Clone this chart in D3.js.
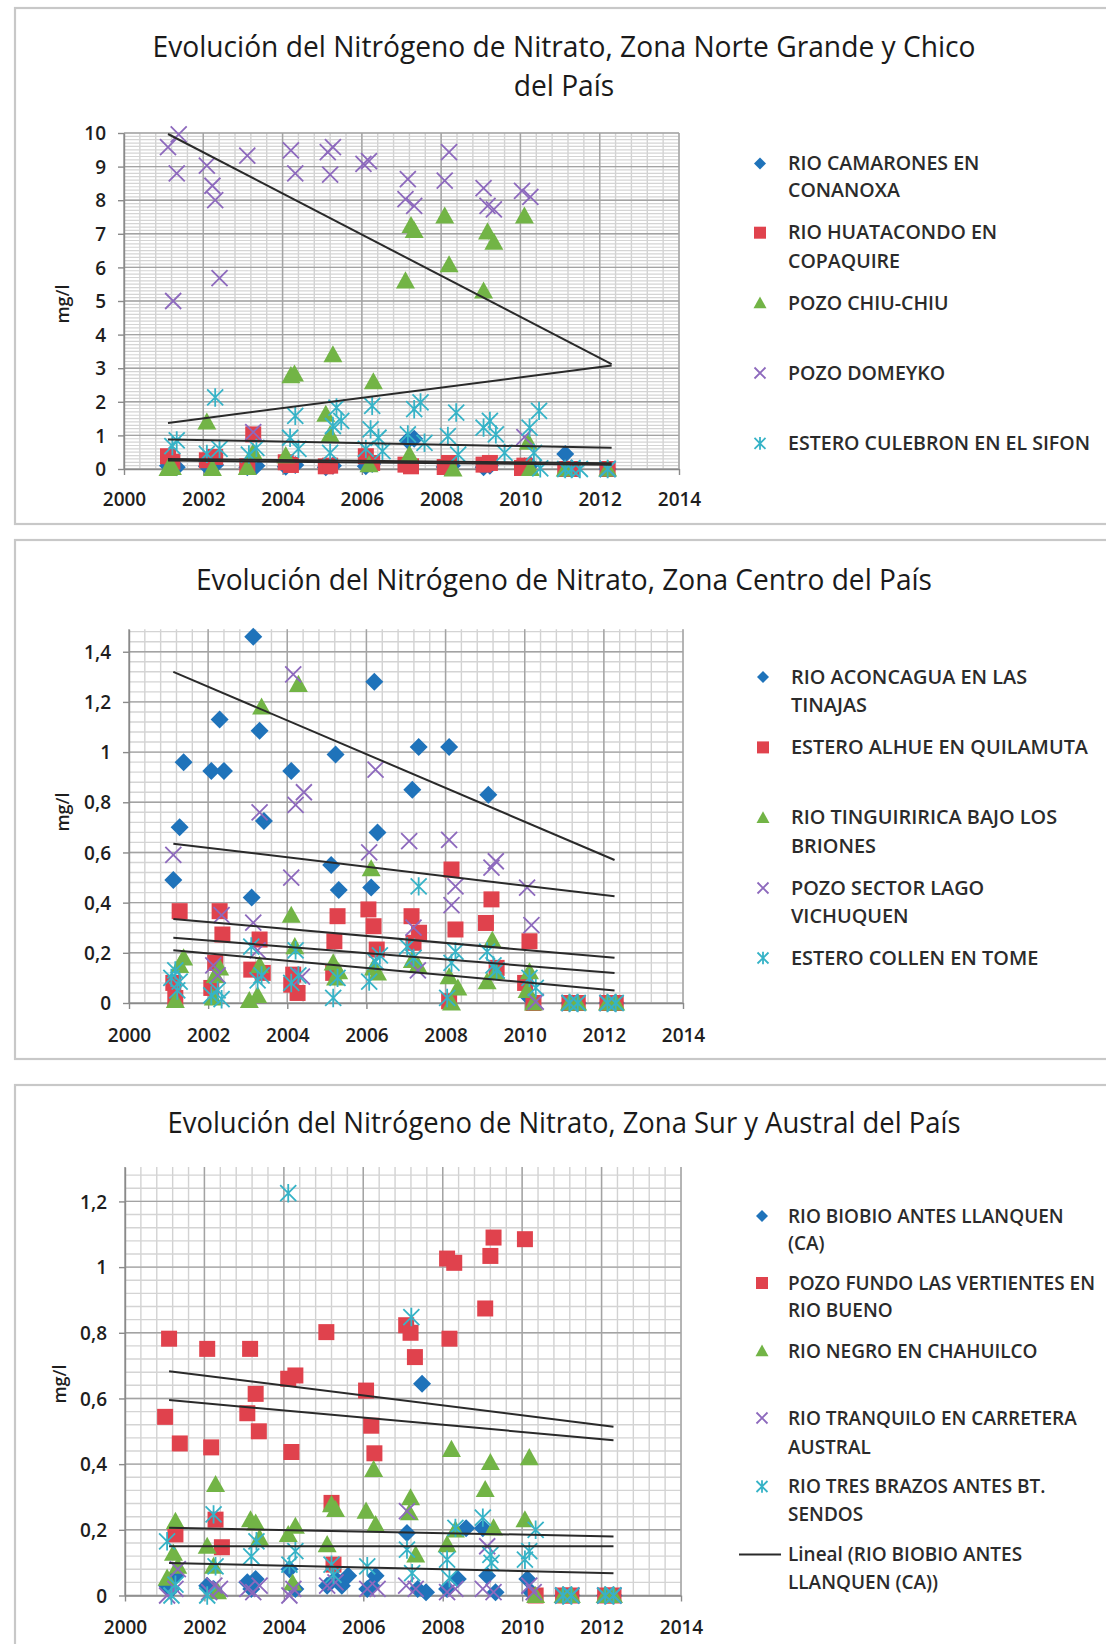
<!DOCTYPE html>
<html><head><meta charset="utf-8">
<script src="https://cdn.jsdelivr.net/npm/d3@7/dist/d3.min.js"></script>
<style>body{margin:0;background:#fff}svg{display:block}</style>
</head><body><svg id="c" width="1106" height="1644"></svg>
<script>
// ---------------- DATA ----------------
const xTicks = [2000, 2002, 2004, 2006, 2008, 2010, 2012, 2014];

// Panel 1 : Norte Grande y Chico
const p1Title = ["Evolución del Nitrógeno de Nitrato, Zona Norte Grande y Chico", "del País"];
const p1YTicks = [0, 1, 2, 3, 4, 5, 6, 7, 8, 9, 10];
const p1Names = [["RIO CAMARONES EN", "CONANOXA"], ["RIO HUATACONDO EN", "COPAQUIRE"], ["POZO CHIU-CHIU"], ["POZO DOMEYKO"], ["ESTERO CULEBRON EN EL SIFON"]];
const p1Camarones = [[2001.11,0.1],[2001.33,0.05],[2002.09,0.08],[2002.3,0.12],[2003.11,0.05],[2003.34,0.1],[2004.08,0.07],[2004.32,0.12],[2005.09,0.05],[2005.27,0.1],[2006.1,0.08],[2006.26,0.15],[2007.16,0.85],[2007.32,0.9],[2008.09,0.06],[2008.27,0.1],[2009.07,0.05],[2009.23,0.1],[2010.1,0.08],[2010.25,0.12],[2011.13,0.45],[2011.29,0.02],[2012.2,0]];
const p1Huatacondo = [[2001.11,0.38],[2001.22,0.22],[2002.09,0.26],[2002.3,0.36],[2003.11,0.08],[2003.26,1.03],[2004.08,0.2],[2004.21,0.12],[2005.09,0.08],[2005.2,0.1],[2006.1,0.38],[2006.26,0.18],[2007.1,0.13],[2007.24,0.08],[2008.09,0.06],[2008.2,0.18],[2009.07,0.13],[2009.23,0.18],[2010.04,0.03],[2010.1,0.1],[2011.13,0],[2011.29,0],[2012.2,0]];
const p1ChiuChiu = [[2001.11,0.02],[2001.22,0.05],[2002.09,1.4],[2002.23,0.02],[2003.11,0.05],[2003.26,0.5],[2004.08,0.4],[2004.21,2.78],[2004.3,2.83],[2005.09,1.63],[2005.2,1.03],[2005.27,3.4],[2006.18,0.13],[2006.29,2.6],[2007.1,5.6],[2007.24,7.25],[2007.32,7.1],[2007.2,0.43],[2008.09,7.53],[2008.2,6.08],[2008.3,0.0],[2009.07,5.3],[2009.17,7.06],[2009.33,6.75],[2010.1,7.53],[2010.2,0.8],[2010.25,0.02],[2011.13,0],[2012.2,0]];
const p1Domeyko = [[2001.11,9.58],[2001.24,5.0],[2001.33,8.8],[2001.38,9.96],[2002.09,9.03],[2002.23,8.43],[2002.3,8.0],[2002.41,5.68],[2003.11,9.33],[2003.26,1.1],[2004.21,9.48],[2004.32,8.8],[2005.14,9.43],[2005.27,9.58],[2005.2,8.76],[2006.04,9.08],[2006.18,9.16],[2007.1,8.03],[2007.16,8.63],[2007.32,7.83],[2008.09,8.58],[2008.2,9.43],[2009.07,8.36],[2009.17,7.83],[2009.33,7.73],[2010.04,8.28],[2010.1,0.95],[2010.25,8.1],[2012.2,0]];
const p1Culebron = [[2001.22,0.68],[2001.33,0.85],[2002.09,0.45],[2002.3,2.13],[2002.41,0.6],[2003.15,0.43],[2003.34,0.63],[2004.19,0.93],[2004.32,1.58],[2004.4,0.6],[2005.2,0.48],[2005.27,1.28],[2005.36,1.83],[2005.48,1.43],[2006.1,0.6],[2006.22,1.18],[2006.26,1.88],[2006.42,0.93],[2006.52,0.53],[2007.16,1.03],[2007.32,1.78],[2007.48,1.98],[2007.58,0.78],[2008.17,0.98],[2008.38,1.68],[2008.43,0.43],[2009.07,1.23],[2009.23,1.43],[2009.38,1.03],[2009.6,0.48],[2010.23,1.23],[2010.34,0.48],[2010.47,1.73],[2010.5,0.02],[2011.13,0],[2011.29,0],[2011.5,0],[2012.2,0]];
const p1Trends = [[[2001.11,9.97],[2012.3,3.12]],[[2001.11,1.37],[2012.3,3.08]],[[2001.11,0.88],[2012.3,0.63]],[[2001.11,0.3],[2012.3,0.17]],[[2001.11,0.25],[2012.3,0.13]]];

// Panel 2 : Centro
const p2Title = ["Evolución del Nitrógeno de Nitrato, Zona Centro del País"];
const p2YTicks = [0, 0.2, 0.4, 0.6, 0.8, 1, 1.2, 1.4];
const p2Names = [["RIO ACONCAGUA EN LAS", "TINAJAS"], ["ESTERO ALHUE EN QUILAMUTA"], ["RIO TINGUIRIRICA BAJO LOS", "BRIONES"], ["POZO SECTOR LAGO", "VICHUQUEN"], ["ESTERO COLLEN EN TOME"]];
const p2Aconcagua = [[2001.12,0.49],[2001.28,0.70],[2001.38,0.96],[2002.08,0.925],[2002.29,1.13],[2002.4,0.925],[2003.14,1.46],[2003.1,0.42],[2003.3,1.085],[2003.41,0.725],[2004.1,0.925],[2005.11,0.55],[2005.22,0.99],[2005.3,0.45],[2006.12,0.46],[2006.2,1.28],[2006.28,0.68],[2007.16,0.85],[2007.32,1.02],[2008.09,1.02],[2009.08,0.83],[2010.12,0.02],[2011.13,0],[2011.34,0],[2012.09,0],[2012.3,0]];
const p2Alhue = [[2001.12,0.08],[2001.17,0.02],[2001.28,0.366],[2002.08,0.06],[2002.18,0.16],[2002.29,0.366],[2002.36,0.273],[2003.09,0.133],[2003.3,0.253],[2003.38,0.12],[2004.1,0.073],[2004.15,0.113],[2004.26,0.04],[2005.16,0.12],[2005.19,0.246],[2005.27,0.346],[2006.05,0.373],[2006.18,0.306],[2006.26,0.213],[2007.14,0.346],[2007.19,0.24],[2007.33,0.28],[2008.09,0.007],[2008.15,0.532],[2008.25,0.293],[2009.02,0.319],[2009.16,0.413],[2009.29,0.14],[2010.01,0.08],[2010.12,0.246],[2010.22,0.0],[2011.13,0],[2011.34,0],[2012.09,0],[2012.3,0]];
const p2Tinguiririca = [[2001.17,0.01],[2001.28,0.15],[2001.38,0.18],[2002.13,0.02],[2002.18,0.11],[2002.29,0.14],[2003.04,0.01],[2003.25,0.03],[2003.3,0.15],[2003.35,1.18],[2004.1,0.35],[2004.19,0.225],[2004.28,1.27],[2005.16,0.16],[2005.22,0.1],[2005.3,0.125],[2006.12,0.535],[2006.18,0.14],[2006.28,0.12],[2007.16,0.17],[2007.3,0.15],[2008.09,0.105],[2008.15,0.0],[2008.31,0.06],[2009.05,0.085],[2009.18,0.25],[2009.27,0.125],[2010.06,0.05],[2010.12,0.125],[2010.22,0.0],[2011.13,0],[2011.34,0],[2012.09,0],[2012.3,0]];
const p2Vichuquen = [[2001.12,0.59],[2002.13,0.15],[2002.24,0.11],[2002.34,0.35],[2003.14,0.32],[2003.25,0.21],[2003.3,0.76],[2004.1,0.5],[2004.15,1.31],[2004.21,0.79],[2004.37,0.105],[2004.42,0.84],[2006.07,0.6],[2006.23,0.93],[2007.08,0.645],[2007.19,0.3],[2007.3,0.13],[2008.09,0.65],[2008.15,0.39],[2008.25,0.465],[2009.16,0.54],[2009.27,0.565],[2010.06,0.46],[2010.17,0.31],[2010.28,0.005],[2011.13,0],[2012.09,0]];
const p2Collen = [[2001.07,0.1],[2001.17,0.13],[2001.28,0.085],[2001.22,0.05],[2002.08,0.03],[2002.24,0.05],[2002.34,0.015],[2003.09,0.225],[2003.25,0.09],[2003.35,0.11],[2004.1,0.08],[2004.21,0.21],[2004.28,0.11],[2005.16,0.02],[2005.27,0.1],[2006.07,0.085],[2006.23,0.165],[2006.34,0.19],[2007.03,0.225],[2007.19,0.18],[2007.32,0.465],[2008.04,0.02],[2008.15,0.16],[2008.25,0.205],[2009.05,0.205],[2009.21,0.15],[2009.29,0.13],[2010.12,0.1],[2010.28,0.06],[2011.13,0],[2011.34,0],[2012.09,0],[2012.3,0]];
const p2Trends = [[[2001.12,1.32],[2012.27,0.57]],[[2001.12,0.635],[2012.27,0.425]],[[2001.12,0.335],[2012.27,0.18]],[[2001.12,0.26],[2012.27,0.12]],[[2001.12,0.21],[2012.27,0.05]]];

// Panel 3 : Sur y Austral
const p3Title = ["Evolución del Nitrógeno de Nitrato, Zona Sur y Austral  del País"];
const p3YTicks = [0, 0.2, 0.4, 0.6, 0.8, 1, 1.2];
const p3Names = [["RIO BIOBIO ANTES LLANQUEN", "(CA)"], ["POZO FUNDO LAS VERTIENTES EN", "RIO BUENO"], ["RIO NEGRO EN CHAHUILCO"], ["RIO TRANQUILO EN CARRETERA", "AUSTRAL"], ["RIO TRES BRAZOS ANTES BT.", "SENDOS"]];
const p3TrendName = ["Lineal (RIO BIOBIO ANTES", "LLANQUEN (CA))"];
const p3Biobio = [[2001.06,0.03],[2001.17,0.02],[2001.27,0.06],[2002.07,0.03],[2002.23,0.02],[2003.08,0.04],[2003.18,0.02],[2003.29,0.05],[2004.14,0.08],[2004.29,0.02],[2005.09,0.03],[2005.3,0.05],[2005.46,0.03],[2005.62,0.06],[2006.1,0.02],[2006.2,0.03],[2006.31,0.06],[2007.1,0.19],[2007.37,0.02],[2007.48,0.645],[2007.58,0.01],[2008.11,0.02],[2008.38,0.05],[2008.59,0.205],[2009.01,0.205],[2009.12,0.06],[2009.33,0.01],[2010.13,0.05],[2010.23,0.01],[2011.03,0],[2011.24,0],[2012.09,0],[2012.3,0]];
const p3PozoFundo = [[2001.01,0.544],[2001.11,0.782],[2001.27,0.186],[2001.38,0.463],[2002.07,0.751],[2002.17,0.451],[2002.28,0.231],[2002.44,0.147],[2003.08,0.555],[2003.15,0.751],[2003.29,0.614],[2003.37,0.5],[2004.11,0.66],[2004.19,0.437],[2004.29,0.67],[2005.07,0.802],[2005.2,0.282],[2005.25,0.094],[2006.07,0.624],[2006.2,0.517],[2006.28,0.433],[2007.08,0.823],[2007.19,0.8],[2007.3,0.726],[2008.11,1.026],[2008.17,0.782],[2008.29,1.013],[2009.07,0.874],[2009.2,1.034],[2009.28,1.09],[2010.07,1.085],[2010.34,0.0],[2011.03,0],[2011.24,0],[2012.09,0],[2012.3,0]];
const p3Negro = [[2001.06,0.053],[2001.22,0.129],[2001.27,0.226],[2001.33,0.089],[2002.07,0.15],[2002.23,0.089],[2002.28,0.338],[2002.33,0.012],[2003.16,0.231],[2003.29,0.221],[2003.39,0.175],[2004.11,0.186],[2004.22,0.038],[2004.29,0.211],[2005.09,0.155],[2005.2,0.277],[2005.3,0.262],[2006.07,0.257],[2006.26,0.384],[2006.31,0.216],[2007.16,0.252],[2007.19,0.298],[2007.32,0.124],[2008.11,0.155],[2008.22,0.445],[2008.32,0.2],[2009.07,0.323],[2009.2,0.405],[2009.28,0.206],[2010.07,0.231],[2010.18,0.42],[2010.34,0.0],[2011.03,0],[2011.24,0],[2012.09,0],[2012.3,0]];
const p3Tranquilo = [[2001.06,0.0],[2001.27,0.02],[2001.33,0.08],[2002.12,0.01],[2002.25,0.03],[2002.39,0.02],[2003.08,0.02],[2003.23,0.01],[2003.39,0.03],[2004.14,0.0],[2004.24,0.02],[2005.09,0.03],[2005.3,0.04],[2006.1,0.02],[2006.36,0.02],[2007.1,0.257],[2007.08,0.03],[2007.32,0.02],[2008.11,0.01],[2008.32,0.02],[2009.01,0.02],[2009.12,0.15],[2009.28,0.01],[2010.18,0.03],[2010.29,0.01],[2011.03,0],[2011.24,0],[2012.09,0],[2012.3,0]];
const p3TresBrazos = [[2001.06,0.165],[2001.17,0.0],[2001.27,0.033],[2002.07,0.0],[2002.23,0.247],[2002.28,0.089],[2003.18,0.119],[2003.31,0.165],[2004.11,1.225],[2004.14,0.094],[2004.29,0.135],[2005.2,0.094],[2005.25,0.063],[2006.1,0.089],[2007.1,0.14],[2007.21,0.848],[2007.23,0.068],[2008.11,0.109],[2008.17,0.053],[2008.32,0.206],[2009.01,0.237],[2009.2,0.124],[2009.23,0.099],[2010.07,0.109],[2010.18,0.135],[2010.34,0.2],[2011.03,0],[2011.24,0],[2012.09,0],[2012.3,0]];
const p3Trends = [[[2001.11,0.683],[2012.3,0.514]],[[2001.11,0.595],[2012.3,0.473]],[[2001.11,0.206],[2012.3,0.18]],[[2001.11,0.15],[2012.3,0.15]],[[2001.11,0.099],[2012.3,0.068]]];

// ---------------- STYLE ----------------
const markerTypes = ["diamond", "square", "triangle", "x", "star"];
const colors = ["#1f73ba", "#e0424d", "#72b446", "#8d69bd", "#36b3c7"];
const FONT = "'Open Sans', 'Noto Sans', sans-serif";

function markerPath(type, r) {
  switch (type) {
    case "diamond": return `M0,${-r}L${r},0L0,${r}L${-r},0Z`;
    case "square": return `M${-r},${-r}H${r}V${r}H${-r}Z`;
    case "triangle": return `M0,${-r}L${r},${r*0.8}L${-r},${r*0.8}Z`;
    case "x": return `M${-r},${-r}L${r},${r}M${-r},${r}L${r},${-r}`;
    case "star": return `M${-r},${-r}L${r},${r}M${-r},${r}L${r},${-r}M0,${-r*1.15}V${r*1.15}`;
  }
}
function styleMarker(sel, i) {
  const t = markerTypes[i];
  if (t === "x" || t === "star") sel.attr("fill", "none").attr("stroke", colors[i]).attr("stroke-width", 1.8);
  else sel.attr("fill", colors[i]).attr("stroke", "none");
}
const markerR = {diamond: 9, square: 8, triangle: 9.5, x: 8, star: 8};
const legendR = {diamond: 6, square: 6, triangle: 6.5, x: 5.5, star: 5.5};

const svg = d3.select("#c");

function measure(str, size, weight) {
  const t = svg.append("text").attr("font-family", FONT).attr("font-size", size).attr("font-weight", weight).text(str);
  const w = t.node().getComputedTextLength();
  t.remove();
  return w;
}

const panels = [
  {title: p1Title, titleW: 823, titleY: [47, 86], names: p1Names, series: [p1Camarones, p1Huatacondo, p1ChiuChiu, p1Domeyko, p1Culebron], trends: p1Trends,
   yTicks: p1YTicks, major: 1, minorDiv: 10, fmt: d3.format("d"),
   frame: [15, 8, 1120, 516], x0: 124, x1: 679, yb: 469, ppu: 33.6, yMax: 10,
   yLab: [63, 304], xLabY: 499, legMX: 760, legTX: 788, legRefW: 302, legRef: "ESTERO CULEBRON EN EL SIFON",
   legY: [[163.5, 190.8], [232.7, 261], [303], [373], [443.4]]},
  {title: p2Title, titleW: 736, titleY: [580], names: p2Names, series: [p2Aconcagua, p2Alhue, p2Tinguiririca, p2Vichuquen, p2Collen], trends: p2Trends,
   yTicks: p2YTicks, major: 0.2, minorDiv: 5, fmt: d => d3.format(".1~f")(d).replace(".", ","),
   frame: [15, 540, 1120, 519], x0: 129, x1: 683, yb: 1003, ppu: 250.9, yMax: 1.49,
   yLab: [63, 812], xLabY: 1035, legMX: 763, legTX: 791, legRefW: 297, legRef: "ESTERO ALHUE EN QUILAMUTA",
   legY: [[677, 705.5], [747.4], [817.7, 846], [888, 916], [958]]},
  {title: p3Title, titleW: 793, titleY: [1123], names: p3Names, series: [p3Biobio, p3PozoFundo, p3Negro, p3Tranquilo, p3TresBrazos], trends: p3Trends,
   yTicks: p3YTicks, major: 0.2, minorDiv: 5, fmt: d => d3.format(".1~f")(d).replace(".", ","),
   frame: [15, 1085, 1120, 620], x0: 125, x1: 681, yb: 1595.5, ppu: 328.4, yMax: 1.305,
   yLab: [60, 1384], xLabY: 1627, legMX: 762, legTX: 788, legRefW: 307, legRef: "POZO FUNDO LAS VERTIENTES EN",
   legY: [[1216, 1243], [1283, 1310], [1351], [1418, 1447], [1486.5, 1514]],
   trendLegend: {name: p3TrendName, y: [1554.6, 1582], lx0: 739, lx1: 781}}
];

panels.forEach(drawPanel);

function drawPanel(P) {
  const g = svg.append("g");
  const [fx, fy, fw, fh] = P.frame;
  g.append("rect").attr("x", fx).attr("y", fy).attr("width", fw).attr("height", fh)
    .attr("fill", "#fff").attr("stroke", "#c8c8c8").attr("stroke-width", 2.2);

  const x = d3.scaleLinear().domain([2000, 2014]).range([P.x0, P.x1]);
  const y = d3.scaleLinear().domain([0, P.yMax]).range([P.yb, P.yb - P.yMax * P.ppu]);

  // minor grid
  const minorX = d3.range(0, 36).map(i => 2000 + i * 0.4);
  const mStep = P.major / P.minorDiv;
  const minorY = d3.range(0, Math.floor(P.yMax / mStep + 1e-6) + 1).map(i => i * mStep);
  const grid = g.append("g");
  grid.selectAll(".mx").data(minorX).join("line")
    .attr("x1", d => x(d)).attr("x2", d => x(d)).attr("y1", y(0)).attr("y2", y(P.yMax))
    .attr("stroke", "#d2d2d2").attr("stroke-width", 1.4);
  grid.selectAll(".my").data(minorY).join("line")
    .attr("x1", x(2000)).attr("x2", x(2014)).attr("y1", d => y(d)).attr("y2", d => y(d))
    .attr("stroke", "#d4d4d4").attr("stroke-width", P.minorDiv > 5 ? 1.2 : 1.4);
  // major grid
  grid.selectAll(".Mx").data(xTicks).join("line")
    .attr("x1", d => x(d)).attr("x2", d => x(d)).attr("y1", y(0)).attr("y2", y(P.yMax))
    .attr("stroke", "#a3a3a3").attr("stroke-width", 1.4);
  grid.selectAll(".My").data(P.yTicks).join("line")
    .attr("x1", x(2000)).attr("x2", x(2014)).attr("y1", d => y(d)).attr("y2", d => y(d))
    .attr("stroke", "#a3a3a3").attr("stroke-width", 1.4);

  // axes
  const ax = g.append("g").attr("transform", `translate(0,${y(0)})`)
    .call(d3.axisBottom(x).tickValues(xTicks).tickFormat(d3.format("d")).tickSize(6).tickSizeOuter(0));
  ax.selectAll("text").attr("y", P.xLabY - y(0)).attr("dy", "0.35em");
  const ay = g.append("g").attr("transform", `translate(${x(2000)},0)`)
    .call(d3.axisLeft(y).tickValues(P.yTicks).tickFormat(P.fmt).tickSize(6).tickSizeOuter(0));
  ay.selectAll("text").attr("x", -18).attr("dy", "0.35em");
  [ax, ay].forEach(a => {
    a.select(".domain").attr("stroke", "#8a8a8a").attr("stroke-width", 1.4);
    a.selectAll(".tick line").attr("stroke", "#8a8a8a").attr("stroke-width", 1.4);
    a.selectAll("text").attr("font-family", FONT).attr("font-size", 19).attr("font-weight", 600).attr("fill", "#1e1e1e");
  });

  // y axis label
  g.append("text").attr("transform", `translate(${P.yLab[0]},${P.yLab[1]}) rotate(-90)`)
    .attr("text-anchor", "middle").attr("dy", "0.35em")
    .attr("font-family", FONT).attr("font-size", 18).attr("font-weight", 600).attr("fill", "#1e1e1e").text("mg/l");

  // title
  const tRatio = P.titleW / measure(P.title[0], 29, 400);
  P.title.forEach((line, i) => {
    const t = g.append("text").attr("x", 564).attr("y", P.titleY[i]).attr("dy", "0.35em")
      .attr("text-anchor", "middle").attr("font-family", FONT).attr("font-size", 29).attr("fill", "#1a1a1a").text(line);
    t.attr("textLength", t.node().getComputedTextLength() * tRatio).attr("lengthAdjust", "spacingAndGlyphs");
  });

  // series markers
  P.series.forEach((data, i) => {
    const t = markerTypes[i];
    const sel = g.append("g").selectAll("path").data(data).join("path")
      .attr("transform", d => `translate(${x(d[0])},${y(d[1])})`)
      .attr("d", markerPath(t, markerR[t]));
    styleMarker(sel, i);
  });

  // trend lines
  g.append("g").selectAll("line").data(P.trends).join("line")
    .attr("x1", d => x(d[0][0])).attr("y1", d => y(d[0][1]))
    .attr("x2", d => x(d[1][0])).attr("y2", d => y(d[1][1]))
    .attr("stroke", "#2a2a2a").attr("stroke-width", 2);

  // legend
  const lRatio = P.legRefW / measure(P.legRef, 19, 600);
  const leg = g.append("g");
  function legText(lines, ys) {
    lines.forEach((line, k) => {
      const t = leg.append("text").attr("x", P.legTX).attr("y", ys[k]).attr("dy", "0.35em")
        .attr("font-family", FONT).attr("font-size", 19).attr("font-weight", 600).attr("fill", "#2b2b2b").text(line);
      t.attr("textLength", t.node().getComputedTextLength() * lRatio).attr("lengthAdjust", "spacingAndGlyphs");
    });
  }
  P.names.forEach((lines, i) => {
    const t = markerTypes[i];
    const m = leg.append("path").attr("transform", `translate(${P.legMX},${P.legY[i][0]})`).attr("d", markerPath(t, legendR[t]));
    styleMarker(m, i);
    legText(lines, P.legY[i]);
  });
  if (P.trendLegend) {
    const T = P.trendLegend;
    leg.append("line").attr("x1", T.lx0).attr("x2", T.lx1).attr("y1", T.y[0]).attr("y2", T.y[0])
      .attr("stroke", "#2a2a2a").attr("stroke-width", 2);
    legText(T.name, T.y);
  }
}
</script>
</body></html>
